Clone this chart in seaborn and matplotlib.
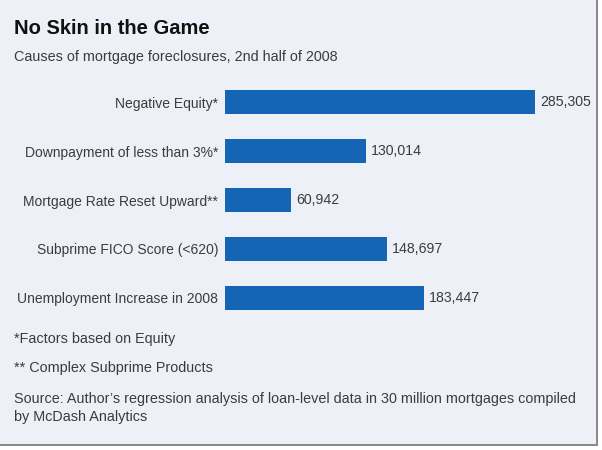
import matplotlib
matplotlib.use("Agg")
import matplotlib.pyplot as plt
import seaborn as sns
import pandas as pd
from matplotlib.patches import Rectangle

categories = ["Negative Equity*", "Downpayment of less than 3%*",
              "Mortgage Rate Reset Upward**", "Subprime FICO Score (<620)",
              "Unemployment Increase in 2008"]
values = [285305, 130014, 60942, 148697, 183447]
value_labels = ["285,305", "130,014", "60,942", "148,697", "183,447"]

title = "No Skin in the Game"
subtitle = "Causes of mortgage foreclosures, 2nd half of 2008"
notes = ["*Factors based on Equity", "** Complex Subprime Products"]
source = "Source: Author\u2019s regression analysis of loan-level data in 30 million mortgages compiled\nby McDash Analytics"

sns.set_theme(style="white")
plt.rcParams['font.family'] = ['Liberation Sans', 'DejaVu Sans']

bg = "#eef0f8"
bar_color = "#1565b5"
txt = "#3c3c3c"
fs = 10.4

W, H = 602, 450
fig = plt.figure(figsize=(W / 100, H / 100), dpi=100)
fig.patch.set_facecolor("white")

# panel background with border
fig.patches.append(Rectangle((0, 4 / H), (W - 4) / W, (H - 4) / H, transform=fig.transFigure,
                             facecolor="#8a8a8a", edgecolor="none", zorder=-10))
fig.patches.append(Rectangle((0, 6 / H), (W - 6) / W, (H - 6) / H, transform=fig.transFigure,
                             facecolor=bg, edgecolor="none", zorder=-9))

left, right = 225, 595
top, bottom = 80, 320
ax = fig.add_axes([left / W, 1 - bottom / H, (right - left) / W, (bottom - top) / H])
ax.set_facecolor("none")
ax.set_zorder(5)

df = pd.DataFrame({"cat": categories, "val": values})
sns.barplot(data=df, x="val", y="cat", orient="h", color=bar_color, width=0.49,
            saturation=1, ax=ax, edgecolor="none")

scale = 285305 / 310.0
ax.set_xlim(0, (right - left) * scale)
ax.set_ylim(4.449, -0.449)
for i, (v, lab) in enumerate(zip(values, value_labels)):
    ax.text(v + 5 * scale, i, lab, va="center", ha="left", fontsize=10.2, color=txt)

ax.set_xlabel("")
ax.set_ylabel("")
ax.set_xticks([])
ax.tick_params(axis="y", length=0, pad=5, labelsize=10, labelcolor=txt)
for s in ax.spines.values():
    s.set_visible(False)

fig.text(14 / W, 1 - 28 / H, title, fontsize=14.5, fontweight="bold", color="#111111",
         va="center", ha="left")
fig.text(14 / W, 1 - 57 / H, subtitle, fontsize=fs, color=txt, va="center", ha="left")
fig.text(14 / W, 1 - 339 / H, notes[0], fontsize=fs, color=txt, va="center", ha="left")
fig.text(14 / W, 1 - 368 / H, notes[1], fontsize=fs, color=txt, va="center", ha="left")
fig.text(14 / W, 1 - 392 / H, source, fontsize=10.4, color=txt, va="top", ha="left",
         linespacing=1.4)

fig.savefig("out.png", dpi=100, facecolor=fig.get_facecolor())
